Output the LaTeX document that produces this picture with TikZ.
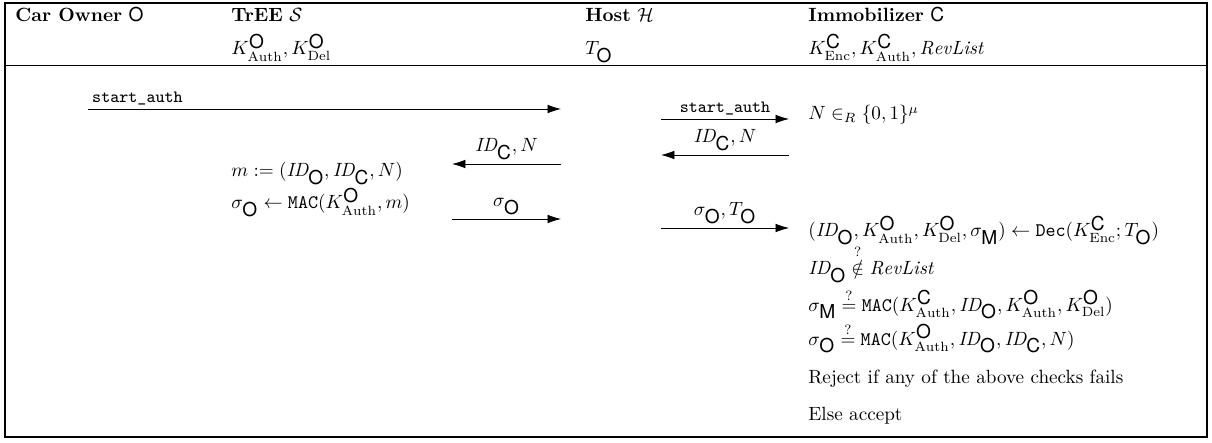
\documentclass[tikz,border=0pt]{standalone}
\usepackage{amsmath, amssymb}
\usepackage{fontspec}
\newfontfamily\helv{TeX Gyre Heros}
\usetikzlibrary{arrows.meta}

\newcommand{\sfO}{\mbox{\helv O}}
\newcommand{\sfC}{\mbox{\helv C}}
\newcommand{\sfM}{\mbox{\helv M}}
\newcommand{\ID}{\mathit{ID}}
\newcommand{\macfn}{\mathtt{MAC}}
\newcommand{\decfn}{\mathtt{Dec}}

\begin{document}
\begin{tikzpicture}[x=0.522pt, y=-0.522pt, >={Latex[length=7pt, width=4.5pt]},
  txt/.style={anchor=base west, inner sep=0pt},
  lbl/.style={above, inner sep=2pt}]
\useasboundingbox (0,0) rectangle (1212,443);
\draw[line width=0.8pt] (5,3) rectangle (1207,437);
\draw (5,65) -- (1207,65);

% parties and their keys
\node[txt] (own) at (15,22) {\textbf{Car Owner} $\sfO$};
\node[txt] (tree) at (231,22) {\textbf{TrEE} $\mathcal{S}$};
\node[txt] (host) at (585,22) {\textbf{Host} $\mathcal{H}$};
\node[txt] (imm) at (808,22) {\textbf{Immobilizer} $\sfC$};
\node[txt] (treekeys) at (231,55) {$K^{\sfO}_{\mathrm{Auth}}, K^{\sfO}_{\mathrm{Del}}$};
\node[txt] (hostkeys) at (585,55) {$T_{\sfO}$};
\node[txt] (immkeys) at (808,55) {$K^{\sfC}_{\mathrm{Enc}}, K^{\sfC}_{\mathrm{Auth}}, \mathit{RevList}$};

% message end points
\coordinate (o1) at (88,109);  \coordinate (h1) at (561,109);
\coordinate (h2) at (561,164); \coordinate (s2) at (452,164);
\coordinate (s3) at (452,219); \coordinate (h3) at (561,219);
\coordinate (h4) at (661,119); \coordinate (c4) at (789,119);
\coordinate (c5) at (789,155); \coordinate (h5) at (661,155);
\coordinate (h6) at (661,228); \coordinate (c6) at (789,228);

\draw[->] (o1) -- node[pos=0, anchor=south west, inner sep=2pt, font=\small] (l1) {\texttt{start\_auth}} (h1);
\draw[->] (h4) -- node[lbl, font=\small] (l4) {\texttt{start\_auth}} (c4);
\draw[->] (c5) -- node[lbl] (l5) {$\ID_{\sfC}, N$} (h5);
\draw[->] (h2) -- node[lbl] (l2) {$\ID_{\sfC}, N$} (s2);
\draw[->] (s3) -- node[lbl] (l3) {$\sigma_{\sfO}$} (h3);
\draw[->] (h6) -- node[lbl] (l6) {$\sigma_{\sfO}, T_{\sfO}$} (c6);

% computations
\node[txt] (nonce) at (808,120) {$N \in_R \{0,1\}^\mu$};
\node[txt] (msg) at (231,177) {$m := (\ID_{\sfO}, \ID_{\sfC}, N)$};
\node[txt] (sig) at (231,209) {$\sigma_{\sfO} \leftarrow \macfn(K^{\sfO}_{\mathrm{Auth}}, m)$};
\node[txt] (dec) at (808,237) {$(\ID_{\sfO}, K^{\sfO}_{\mathrm{Auth}}, K^{\sfO}_{\mathrm{Del}}, \sigma_{\sfM}) \leftarrow \decfn(K^{\sfC}_{\mathrm{Enc}}; T_{\sfO})$};
\node[txt] (chkrev) at (808,275) {$\ID_{\sfO} \stackrel{?}{\notin} \mathit{RevList}$};
\node[txt] (chkm) at (808,311) {$\sigma_{\sfM} \stackrel{?}{=} \macfn(K^{\sfC}_{\mathrm{Auth}}, \ID_{\sfO}, K^{\sfO}_{\mathrm{Auth}}, K^{\sfO}_{\mathrm{Del}})$};
\node[txt] (chko) at (808,345) {$\sigma_{\sfO} \stackrel{?}{=} \macfn(K^{\sfO}_{\mathrm{Auth}}, \ID_{\sfO}, \ID_{\sfC}, N)$};
\node[txt] (reject) at (808,383) {Reject if any of the above checks fails};
\node[txt] (accept) at (808,420) {Else accept};
\end{tikzpicture}
\end{document}
